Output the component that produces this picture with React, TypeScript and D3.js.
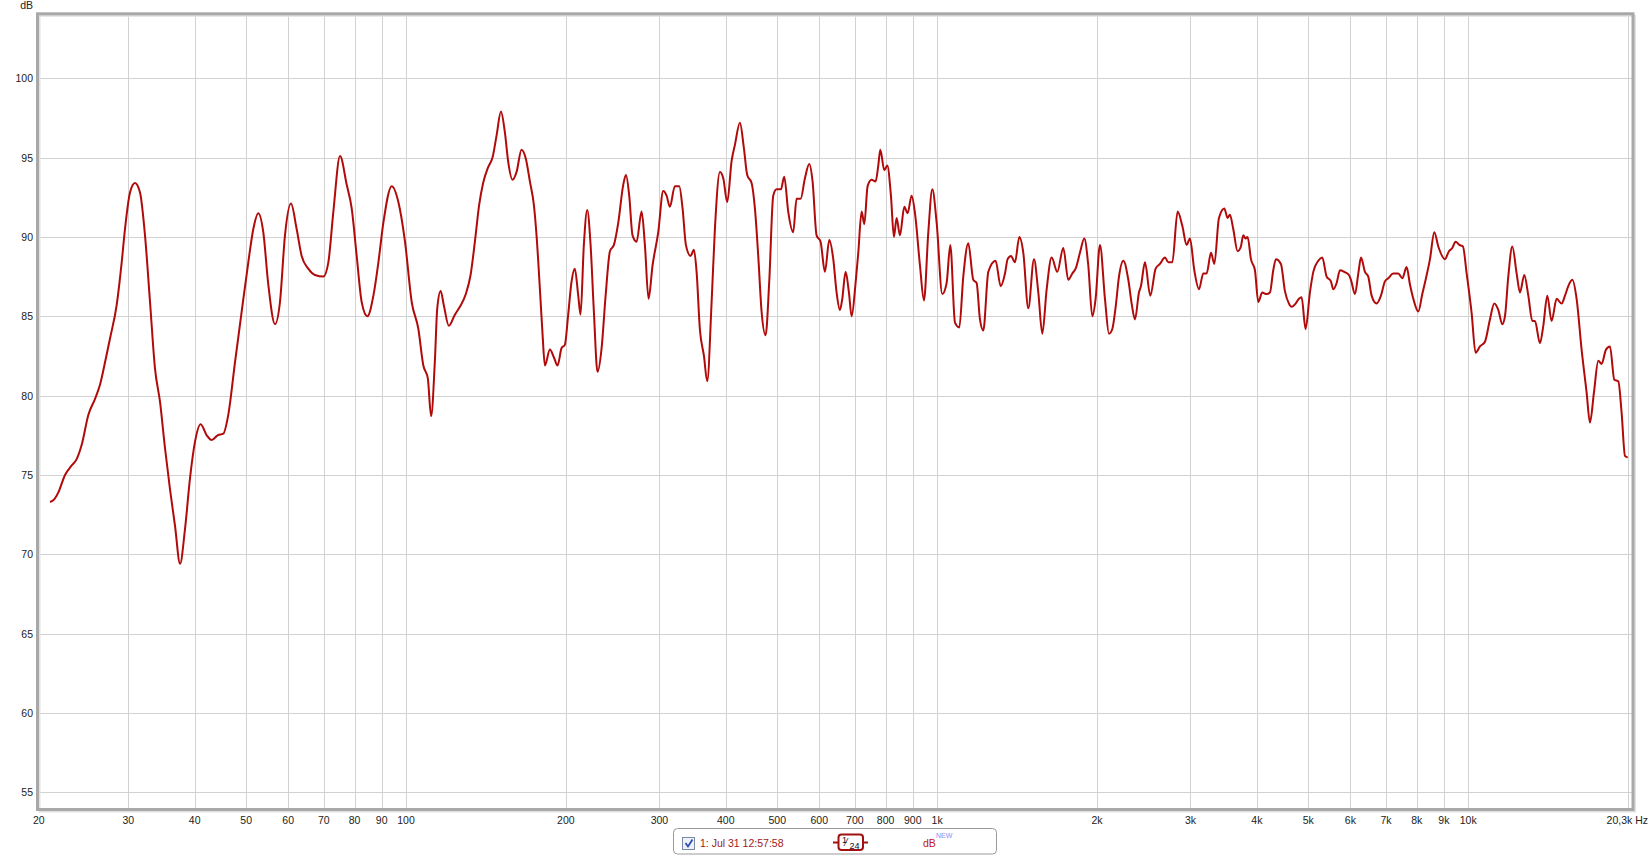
import React from "react";
import * as d3 from "d3";

// ---- Data ----
const freqHz: number[] = [
  21.36, 21.67, 22.15, 22.8, 23.47, 23.98, 24.51, 25.23, 25.97, 26.54, 27.12, 27.71, 28.52, 29.15, 29.57, 30.22,
  30.88, 31.56, 32.25, 32.96, 33.68, 34.42, 35.17, 35.94, 36.73, 37.54, 38.36, 39.2, 40.06, 41.05, 42.14, 43.06,
  44.19, 45.29, 46.28, 47.64, 49.04, 50.47, 51.58, 52.7, 53.86, 55.04, 56.66, 57.9, 59.17, 60.73, 62.24, 63.61,
  65.47, 67.4, 69.88, 71.41, 72.98, 75.12, 77.32, 79.02, 80.75, 82.51, 84.56, 86.81, 88.71, 90.65, 93.99, 96.74,
  99.56, 102.5, 105.5, 107.8, 109.9, 111.5,
  113.3, 114.5, 116.2, 117.8, 120.4, 123.6, 126.3, 129.6, 132.3, 134.8, 137.3, 139.7, 142.8, 145.5, 148.1, 150.9,
  153.5, 155.8, 158.7, 161.5, 165.0, 168.2, 171.1, 174.1, 176.1, 178.7, 180.8, 182.6, 186.6, 189.9, 192.9, 196.3,
  199.1, 202.0, 205.0, 207.9, 211.0, 213.1, 216.2, 219.4, 222.6, 225.8, 229.4, 233.5, 237.6, 242.1, 246.3, 251.0,
  256.5, 259.5, 263.2, 267.0, 271.7, 277.7, 281.7, 286.2, 291.2, 298.5, 305.0, 309.5, 313.9, 320.8, 326.9, 331.7,
  336.5, 343.4, 348.4, 352.5, 357.5, 363.9, 369.1, 376.2, 381.6, 390.0, 395.7, 402.6, 410.3, 416.2, 425.3, 432.7,
  439.0, 447.4, 453.9, 460.5, 467.2, 475.4, 483.0, 491.4, 498.6, 508.1, 515.4, 524.4, 535.9, 543.7, 553.3, 563.8,
  574.4, 582.8, 593.0, 603.4, 614.8,
  626.6, 637.5, 646.8, 656.2, 662.9, 672.5, 682.3, 690.3, 702.3, 710.5, 720.9, 729.3, 739.9, 752.8, 766.0, 774.9,
  781.7, 795.3, 805.7, 818.6, 829.3, 839.0, 851.2, 867.4, 880.0, 895.4, 908.5, 928.4, 944.6, 962.6, 979.4, 998.0,
  1022.8, 1042.2, 1058.8, 1080.6, 1101.0, 1120.2, 1144.8, 1169.8, 1186.8, 1204.2, 1221.7, 1248.5, 1288.8, 1317.2,
  1342.2, 1357.7, 1377.6, 1401.6, 1428.3, 1453.2, 1485.0, 1522.0, 1550.8, 1578.0, 1607.9, 1643.2, 1683.9, 1728.2,
  1766.1, 1797.1, 1823.1, 1857.6, 1893.1, 1926.1, 1959.7, 1988.2, 2026.1, 2070.4, 2106.8, 2137.6, 2168.8, 2200.2,
  2242.1, 2291.1, 2324.6, 2358.2, 2399.3, 2420.2, 2462.7, 2520.0, 2579.1, 2627.9, 2685.8, 2724.7, 2772.4, 2837.2,
  2895.3, 2950.0, 2992.9, 3049.8, 3112.3, 3170.8, 3217.3, 3278.8, 3326.5, 3394.0, 3473.8,
  3523, 3559, 3611, 3680, 3733, 3771, 3809, 3843, 3899, 3967, 4025, 4095, 4173, 4233, 4295, 4345, 4440, 4517,
  4597, 4650, 4732, 4801, 4856, 4941, 5035, 5109, 5221, 5312, 5413, 5515, 5571, 5653, 5735, 5843, 5963, 6015,
  6121, 6210, 6282, 6392, 6484, 6579, 6723, 6851, 6970, 7072, 7227, 7385, 7515, 7657, 7769, 7883, 8055, 8196,
  8327, 8473, 8634, 8784, 9041, 9199, 9333, 9469, 9621, 9775, 9933, 10150, 10326, 10522, 10753, 10989, 11197,
  11393, 11593, 11728, 11898, 12108, 12337, 12516, 12754, 12978, 13205, 13358, 13650, 13849, 14091, 14357, 14674,
  14995, 15213, 15434, 15704, 16001, 16351, 16710, 16952, 17251, 17577, 17834, 18173, 18490, 18843, 19172, 19451,
  19733, 19964,
];

const levelDb: number[] = [
  73.3, 73.4, 73.9, 75.0, 75.6, 76.0, 76.9, 78.8, 79.8, 80.7, 82.1, 83.6, 85.7, 88.4, 90.5, 92.8,
  93.4, 92.8, 90.1, 85.9, 81.7, 79.6, 76.7, 74.1, 71.8, 69.4, 71.6, 74.8, 77.1, 78.2, 77.5, 77.2,
  77.5, 77.6, 78.8, 82.1, 85.3, 88.4, 90.5, 91.5, 90.3, 87.0, 84.5, 85.9, 90.1, 92.1, 90.5, 88.8,
  88.0, 87.6, 87.5, 88.4, 91.6, 95.1, 93.3, 91.8, 88.8, 85.9, 85.0, 86.3, 88.4, 90.9, 93.2, 92.2,
  89.7, 85.9, 84.2, 81.9, 81.1, 78.7,
  82.1, 85.5, 86.6, 85.7, 84.4, 85.1, 85.6, 86.4, 87.6, 89.7, 92.0, 93.4, 94.4, 95.0, 96.4, 97.9,
  96.6, 94.7, 93.6, 94.1, 95.5, 94.9, 93.5, 92.0, 90.1, 86.7, 83.8, 81.9, 82.9, 82.4, 81.9, 83.0,
  83.2, 85.1, 87.2, 88.0, 86.3, 85.1, 89.5, 91.7, 89.5, 85.3, 81.5, 83.0, 86.3, 89.1, 89.5, 90.9,
  93.3, 93.9, 92.6, 90.1, 89.7, 91.6, 89.5, 86.1, 88.2, 90.3, 92.9, 92.6, 91.9, 93.2, 93.2, 91.8,
  89.5, 88.8, 89.2, 87.8, 84.2, 82.5, 80.9, 85.9, 90.5, 94.1, 93.7, 92.2, 94.8, 95.8, 97.2, 95.6,
  93.9, 93.4, 91.8, 88.8, 85.3, 83.8, 87.2, 92.6, 93.0, 93.0, 93.8, 91.6, 90.3, 92.4, 92.4, 93.7,
  94.6, 93.5, 90.1, 89.7, 87.8,
  89.8, 88.6, 86.5, 85.4, 86.1, 87.8, 86.5, 85.0, 87.1, 89.0, 91.6, 90.8, 93.2, 93.6, 93.5, 94.5,
  95.5, 94.2, 94.5, 92.6, 90.0, 91.2, 90.1, 91.9, 91.5, 92.6, 91.5, 88.2, 86.0, 90.3, 93.0, 90.9,
  86.4, 87.1, 89.5, 84.6, 84.3, 87.5, 89.6, 87.3, 87.1, 84.8, 84.1, 87.8, 88.5, 86.9,
  87.7, 88.6, 88.8, 88.4, 90.0, 89.0, 85.5, 88.6, 86.5, 83.9, 86.7, 88.7, 87.8, 89.3,
  87.3, 87.7, 88.0, 89.0, 89.9, 88.2, 85.0, 86.1, 89.5, 86.1, 83.9, 84.2, 85.6, 87.5,
  88.5, 87.3, 85.8, 84.8, 86.5, 86.9, 88.4, 86.3, 88.0, 88.3, 88.7, 88.4, 88.4, 91.6,
  90.7, 89.5, 89.9, 87.9, 86.7, 87.7, 87.7, 89.0, 88.3, 91.2, 91.8,
  91.2, 91.4, 90.5, 89.1, 89.4, 90.1, 89.9, 90.0, 88.6, 87.9, 85.9, 86.5, 86.4, 86.5, 87.9, 88.6, 88.3, 86.6,
  85.8, 85.6, 85.8, 86.1, 86.2, 84.2, 86.5, 87.8, 88.5, 88.7, 87.5, 87.2, 86.7, 87.1, 87.9, 87.8, 87.6, 87.3,
  86.4, 87.7, 88.7, 87.8, 87.5, 86.3, 85.8, 86.3, 87.2, 87.4, 87.7, 87.7, 87.4, 88.1, 87.0, 86.1, 85.3, 86.4,
  87.4, 88.6, 90.3, 89.4, 88.6, 89.1, 89.3, 89.7, 89.5, 89.4, 87.7, 85.2, 82.7, 83.1, 83.4, 84.8, 85.8,
  85.4, 84.5, 85.0, 87.5, 89.4, 87.7, 86.5, 87.6, 86.3, 84.7, 84.7, 83.3, 84.4, 86.3, 84.7, 86.1,
  85.8, 86.3, 86.9, 87.3, 86.1, 82.9, 80.2, 78.3, 80.2, 82.2, 82.0, 82.9, 83.1, 81.0, 80.9, 78.9,
  76.2, 76.1,
];

const yTicks: number[] = [55, 60, 65, 70, 75, 80, 85, 90, 95, 100];
const xGridHz: number[] = [
  30, 40, 50, 60, 70, 80, 90, 100, 200, 300, 400, 500, 600, 700, 800, 900, 1000,
  2000, 3000, 4000, 5000, 6000, 7000, 8000, 9000, 10000, 20000,
];
const xTickHz: number[] = [
  30, 40, 50, 60, 70, 80, 90, 100, 200, 300, 400, 500, 600, 700, 800, 900, 1000,
  2000, 3000, 4000, 5000, 6000, 7000, 8000, 9000, 10000,
];
const xTickText: string[] = [
  "30", "40", "50", "60", "70", "80", "90", "100", "200", "300", "400", "500", "600", "700", "800", "900", "1k",
  "2k", "3k", "4k", "5k", "6k", "7k", "8k", "9k", "10k",
];
const xDomain: [number, number] = [20, 20300];
const yDomain: [number, number] = [54, 104.1];
const legendLabel = "1: Jul 31 12:57:58";

const FONT = "'Liberation Sans', Arial, sans-serif";

export default function App() {
  const x = d3.scaleLog().domain(xDomain).range([34.8, 1631.5]);
  const y = d3.scaleLinear().domain(yDomain).range([808.2, 13.2]);

  const left = 37.5;
  const right = 1633;
  const top = 13.8;
  const bottom = 809.5;

  const pts: [number, number][] = freqHz.map((f, i) => [x(f), y(levelDb[i])]);
  const line = d3.line<[number, number]>().x((d) => d[0]).y((d) => d[1]).curve(d3.curveMonotoneX);
  const path = line(pts) || "";

  return (
    <svg
      width={1650}
      height={856}
      style={{ position: "absolute", left: 0, top: 0, background: "#fff" }}
      fontFamily={FONT}
    >
      <rect x={0} y={0} width={1650} height={856} fill="#ffffff" />
      {/* grid */}
      {yTicks.map((t) => (
        <line key={"gy" + t} x1={left} x2={right} y1={Math.round(y(t)) + 0.5} y2={Math.round(y(t)) + 0.5} stroke="#d2d2d2" strokeWidth={1} />
      ))}
      {xGridHz.map((f) => (
        <line key={"gx" + f} x1={Math.round(x(f)) + 0.5} x2={Math.round(x(f)) + 0.5} y1={top} y2={bottom} stroke="#d2d2d2" strokeWidth={1} />
      ))}
      {/* curve */}
      <path d={path} fill="none" stroke="#b00a0a" strokeWidth={2} strokeLinejoin="round" />
      {/* frame */}
      <rect x={left + 2} y={top + 2} width={right - left} height={bottom - top} fill="none" stroke="#e2e2e2" strokeWidth={2} />
      <rect x={left} y={top} width={right - left} height={bottom - top} fill="none" stroke="#a8a8a8" strokeWidth={3} />
      {/* y labels */}
      {yTicks.map((t) => (
        <text key={"ty" + t} x={33} y={y(t) + 4} textAnchor="end" fontSize={10.5} fill="#222">
          {t}
        </text>
      ))}
      <text x={33} y={9} textAnchor="end" fontSize={10.5} fill="#222">dB</text>
      {/* x labels */}
      <text x={33} y={824} textAnchor="start" fontSize={10.5} fill="#222">20</text>
      {xTickHz.map((f, i) => (
        <text key={"tx" + f} x={x(f)} y={824} textAnchor="middle" fontSize={10.5} fill="#222">
          {xTickText[i]}
        </text>
      ))}
      <text x={1648} y={824} textAnchor="end" fontSize={10.5} fill="#222">20,3k Hz</text>
      {/* legend */}
      <rect x={673.5} y={828.5} width={323} height={25.5} rx={4} fill="#fff" stroke="#9a9a9a" strokeWidth={1} />
      <rect x={682.5} y={837.5} width={12} height={12} fill="#eef2f8" stroke="#7a8aa5" strokeWidth={1} />
      <path d="M685.5,843 L688,846.5 L692.5,839.5" fill="none" stroke="#2a4fb0" strokeWidth={1.8} />
      <text x={700} y={847} fontSize={10.5} fill="#a01818">{legendLabel}</text>
      <line x1={833} x2={838} y1={842.5} y2={842.5} stroke="#a01010" strokeWidth={2} />
      <line x1={863} x2={868} y1={842.5} y2={842.5} stroke="#a01010" strokeWidth={2} />
      <rect x={838.5} y={834.5} width={24.5} height={15.5} rx={3} fill="#fff" stroke="#a01010" strokeWidth={2} />
      <text fontSize={9} fill="#111">
        <tspan x={842} y={843}>1</tspan>
        <tspan x={845.5} y={846} fontSize={10}>⁄</tspan>
        <tspan x={849.5} y={848.5}>24</tspan>
      </text>
      <text x={923} y={847} fontSize={10.5} fill="#c01818">dB</text>
      <text x={936} y={838} fontSize={7} fill="#8a8af0">NEW</text>
    </svg>
  );
}
